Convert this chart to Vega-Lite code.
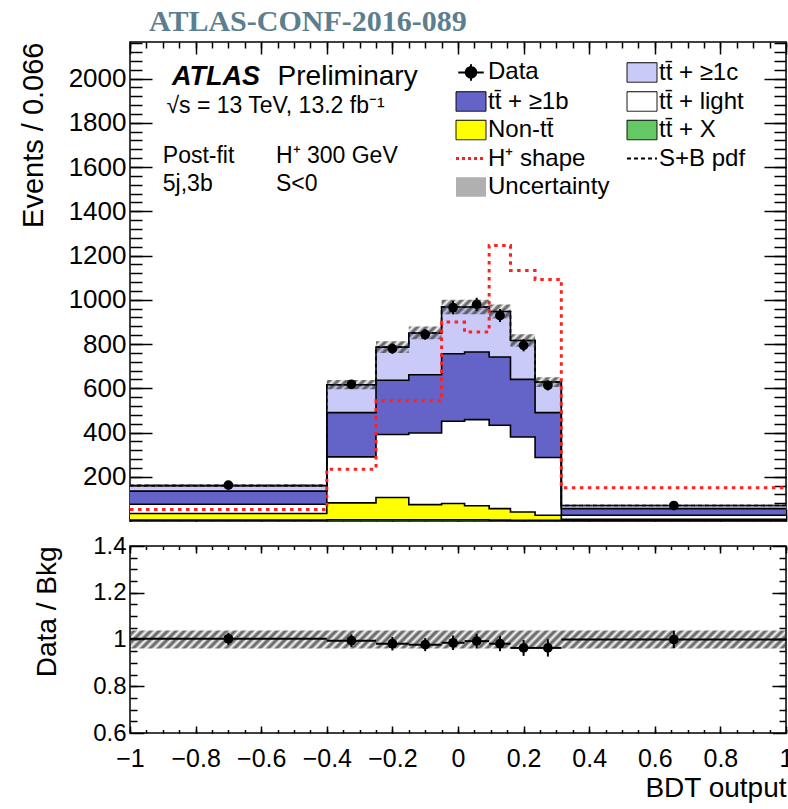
{
  "$schema": "https://vega.github.io/schema/vega-lite/v6.json",
  "background": "white",
  "padding": {"left": 18, "top": 6, "right": 0, "bottom": 0},
  "title": {"text": "ATLAS-CONF-2016-089", "font": "Liberation Serif", "fontSize": 30, "fontWeight": "bold", "color": "#5b7f8e", "anchor": "start", "frame": "group", "dx": 19, "offset": 4},
  "config": {
    "view": {"stroke": "black", "strokeWidth": 1.5},
    "axis": {"domain": false, "grid": false, "tickColor": "black", "tickWidth": 1.5, "labelFont": "Liberation Sans", "labelFontSize": 25, "labelColor": "black", "labelFlush": false, "titleFont": "Liberation Sans", "titleFontWeight": "normal", "titleColor": "black"}
  },
  "datasets": {
    "bins": [
      {"lo": -1, "hi": -0.4, "xc": -0.7, "data": 162, "derr": 4.2, "tt\u0304 + X": 4, "Non-tt\u0304": 30, "tt\u0304 + light": 42, "tt\u0304 + \u22651b": 59, "tt\u0304 + \u22651c": 25, "hp": 52, "sb": 160, "bandLo": 154, "bandHi": 166, "ratio": 1.003, "rerr": 0.026, "rLo": 0.962, "rHi": 1.038},
      {"lo": -0.4, "hi": -0.25, "xc": -0.325, "data": 618, "derr": 16.5, "tt\u0304 + X": 5, "Non-tt\u0304": 77, "tt\u0304 + light": 208, "tt\u0304 + \u22651b": 200, "tt\u0304 + \u22651c": 126, "hp": 234, "sb": 616, "bandLo": 595, "bandHi": 637, "ratio": 0.995, "rerr": 0.027, "rLo": 0.962, "rHi": 1.038},
      {"lo": -0.25, "hi": -0.15, "xc": -0.2, "data": 779, "derr": 22.7, "tt\u0304 + X": 5, "Non-tt\u0304": 101, "tt\u0304 + light": 285, "tt\u0304 + \u22651b": 245, "tt\u0304 + \u22651c": 150, "hp": 543, "sb": 786, "bandLo": 759, "bandHi": 813, "ratio": 0.982, "rerr": 0.029, "rLo": 0.962, "rHi": 1.038},
      {"lo": -0.15, "hi": -0.05, "xc": -0.1, "data": 843, "derr": 23.6, "tt\u0304 + X": 5, "Non-tt\u0304": 69, "tt\u0304 + light": 324, "tt\u0304 + \u22651b": 263, "tt\u0304 + \u22651c": 189, "hp": 543, "sb": 850, "bandLo": 821, "bandHi": 879, "ratio": 0.978, "rerr": 0.028, "rLo": 0.962, "rHi": 1.038},
      {"lo": -0.05, "hi": 0.02, "xc": -0.015, "data": 964, "derr": 30, "tt\u0304 + X": 5, "Non-tt\u0304": 74, "tt\u0304 + light": 372, "tt\u0304 + \u22651b": 305, "tt\u0304 + \u22651c": 211, "hp": 899, "sb": 967, "bandLo": 934, "bandHi": 1000, "ratio": 0.986, "rerr": 0.031, "rLo": 0.962, "rHi": 1.038},
      {"lo": 0.02, "hi": 0.095, "xc": 0.057, "data": 979, "derr": 30, "tt\u0304 + X": 5, "Non-tt\u0304": 64, "tt\u0304 + light": 389, "tt\u0304 + \u22651b": 306, "tt\u0304 + \u22651c": 203, "hp": 854, "sb": 967, "bandLo": 934, "bandHi": 1000, "ratio": 0.993, "rerr": 0.031, "rLo": 0.962, "rHi": 1.038},
      {"lo": 0.095, "hi": 0.16, "xc": 0.128, "data": 929, "derr": 29.6, "tt\u0304 + X": 4, "Non-tt\u0304": 52, "tt\u0304 + light": 377, "tt\u0304 + \u22651b": 308, "tt\u0304 + \u22651c": 206, "hp": 1245, "sb": 947, "bandLo": 915, "bandHi": 979, "ratio": 0.982, "rerr": 0.032, "rLo": 0.962, "rHi": 1.038},
      {"lo": 0.16, "hi": 0.235, "xc": 0.2, "data": 794, "derr": 27.4, "tt\u0304 + X": 3, "Non-tt\u0304": 38, "tt\u0304 + light": 339, "tt\u0304 + \u22651b": 260, "tt\u0304 + \u22651c": 176, "hp": 1132, "sb": 816, "bandLo": 788, "bandHi": 844, "ratio": 0.964, "rerr": 0.034, "rLo": 0.962, "rHi": 1.038},
      {"lo": 0.235, "hi": 0.315, "xc": 0.274, "data": 613, "derr": 22.5, "tt\u0304 + X": 3, "Non-tt\u0304": 23, "tt\u0304 + light": 261, "tt\u0304 + \u22651b": 203, "tt\u0304 + \u22651c": 138, "hp": 1092, "sb": 628, "bandLo": 606, "bandHi": 650, "ratio": 0.964, "rerr": 0.037, "rLo": 0.962, "rHi": 1.038},
      {"lo": 0.315, "hi": 1, "xc": 0.658, "data": 70, "derr": 2.6, "tt\u0304 + X": 2, "Non-tt\u0304": 6, "tt\u0304 + light": 18, "tt\u0304 + \u22651b": 30, "tt\u0304 + \u22651c": 14, "hp": 150, "sb": 70, "bandLo": 67, "bandHi": 73, "ratio": 1.0, "rerr": 0.037, "rLo": 0.962, "rHi": 1.038}
    ]
  },
  "spacing": 8,
  "vconcat": [
    {
      "width": 656,
      "height": 479,
      "resolve": {"axis": {"x": "independent", "y": "independent"}},
      "layer": [
        {
          "data": {"name": "bins"},
          "transform": [
            {"fold": ["tt\u0304 + X", "Non-tt\u0304", "tt\u0304 + light", "tt\u0304 + \u22651b", "tt\u0304 + \u22651c"], "as": ["comp", "v"]},
            {"stack": "v", "groupby": ["lo"], "as": ["y0", "y1"]},
            {"fold": ["lo", "hi"], "as": ["side", "edge"]}
          ],
          "mark": {"type": "area", "opacity": 1},
          "encoding": {
            "x": {"field": "edge", "type": "quantitative", "scale": {"domain": [-1, 1], "nice": false, "zero": false},
                  "axis": {"orient": "bottom", "values": [-1, -0.8, -0.6, -0.4, -0.2, 0, 0.2, 0.4, 0.6, 0.8, 1], "labels": false, "tickSize": -12, "title": null}},
            "y": {"field": "y1", "type": "quantitative", "scale": {"domain": [0, 2165], "nice": false},
                  "axis": {"orient": "left", "values": [200, 400, 600, 800, 1000, 1200, 1400, 1600, 1800, 2000], "format": "d", "tickSize": -22, "labelPadding": 26, "labelFontSize": 26, "title": "Events / 0.066", "titleFontSize": 29, "titleAnchor": "end", "titlePadding": 20}},
            "y2": {"field": "y0"},
            "color": {
              "field": "comp", "type": "nominal",
              "scale": {
                "domain": ["Data", "tt\u0304 + \u22651b", "Non-tt\u0304", "H\u207a shape", "Uncertainty", "tt\u0304 + \u22651c", "tt\u0304 + light", "tt\u0304 + X", "S+B pdf"],
                "range": ["black", "#6464c8", "#ffff00", "#ff2020", "#b0b0b0", "#cacaf8", "white", "#64c864", "black"]
              },
              "legend": {
                "orient": "none", "legendX": 329, "legendY": 18, "columns": 2, "columnPadding": 13, "rowPadding": 4.5,
                "symbolSize": 900, "labelFont": "Liberation Sans", "labelFontSize": 24, "labelColor": "black", "labelOffset": 5, "title": null, "labelLimit": 300,
                "encoding": {
                  "symbols": {
                    "shape": {"value": {"expr": "datum.value === 'Data' ? 'M-0.35,0A0.35,0.35,0,1,1,0.35,0A0.35,0.35,0,1,1,-0.35,0ZM-0.85,0L0.85,0M0,-0.55L0,0.55' : (datum.value === 'H\u207a shape' || datum.value === 'S+B pdf') ? 'stroke' : 'M-1,-0.65H1V0.65H-1Z'"}},
                    "stroke": {"value": {"expr": "datum.value === 'H\u207a shape' ? '#ff2020' : datum.value === 'Uncertainty' ? 'transparent' : 'black'"}},
                    "strokeWidth": {"value": {"expr": "datum.value === 'H\u207a shape' ? 3 : (datum.value === 'Data' || datum.value === 'S+B pdf') ? 2 : 1"}},
                    "strokeDash": {"value": {"expr": "datum.value === 'H\u207a shape' ? [3, 3] : datum.value === 'S+B pdf' ? [4, 3] : [1, 0]"}},
                    "fill": {"value": {"expr": "datum.value === 'Uncertainty' ? {gradient: 'linear', x1: 0, y1: 0, x2: 1.16, y2: 0.754, stops: [{offset: 0, color: '#fff'}, {offset: 0.0833, color: '#fff'}, {offset: 0.125, color: '#333'}, {offset: 0.1667, color: '#fff'}, {offset: 0.25, color: '#fff'}, {offset: 0.2917, color: '#333'}, {offset: 0.3333, color: '#fff'}, {offset: 0.4167, color: '#fff'}, {offset: 0.4583, color: '#333'}, {offset: 0.5, color: '#fff'}, {offset: 0.5833, color: '#fff'}, {offset: 0.625, color: '#333'}, {offset: 0.6667, color: '#fff'}, {offset: 0.75, color: '#fff'}, {offset: 0.7917, color: '#333'}, {offset: 0.8333, color: '#fff'}, {offset: 0.9167, color: '#fff'}, {offset: 0.9583, color: '#333'}, {offset: 1, color: '#fff'}]} : scale('color', datum.value)"}},
                    "opacity": {"value": 1}
                  }
                }
              }
            }
          }
        },
        {
          "data": {"name": "bins"},
          "transform": [
            {"fold": ["tt\u0304 + X", "Non-tt\u0304", "tt\u0304 + light", "tt\u0304 + \u22651b", "tt\u0304 + \u22651c"], "as": ["comp", "v"]},
            {"stack": "v", "groupby": ["lo"], "as": ["y0", "y1"]},
            {"fold": ["lo", "hi"], "as": ["side", "edge"]}
          ],
          "mark": {"type": "line", "color": "black", "strokeWidth": 1.6},
          "encoding": {
            "x": {"field": "edge", "type": "quantitative", "scale": {"domain": [-1, 1], "nice": false, "zero": false},
                  "axis": {"orient": "top", "values": [-1, -0.8, -0.6, -0.4, -0.2, 0, 0.2, 0.4, 0.6, 0.8, 1], "labels": false, "tickSize": -12, "title": null}},
            "y": {"field": "y1", "type": "quantitative", "scale": {"domain": [0, 2165], "nice": false},
                  "axis": {"orient": "right", "values": [200, 400, 600, 800, 1000, 1200, 1400, 1600, 1800, 2000], "labels": false, "tickSize": -22, "title": null}},
            "detail": {"field": "comp", "type": "nominal"},
            "order": [{"field": "edge", "type": "quantitative"}, {"field": "side", "type": "ordinal"}]
          }
        },
        {
          "data": {"name": "bins"},
          "transform": [{"fold": ["lo", "hi"], "as": ["side", "edge"]}],
          "mark": {"type": "area", "opacity": 1, "fill": {"gradient": "linear", "x1": 0, "y1": 0, "x2": 1.196, "y2": 0.3763, "stops": [
            {"offset": 0, "color": "#0000"}, {"offset": 0.005, "color": "#444d"}, {"offset": 0.01, "color": "#0000"}, {"offset": 0.015, "color": "#444d"}, {"offset": 0.02, "color": "#0000"}, {"offset": 0.025, "color": "#444d"}, {"offset": 0.03, "color": "#0000"}, {"offset": 0.035, "color": "#444d"}, {"offset": 0.04, "color": "#0000"}, {"offset": 0.045, "color": "#444d"},
            {"offset": 0.05, "color": "#0000"}, {"offset": 0.055, "color": "#444d"}, {"offset": 0.06, "color": "#0000"}, {"offset": 0.065, "color": "#444d"}, {"offset": 0.07, "color": "#0000"}, {"offset": 0.075, "color": "#444d"}, {"offset": 0.08, "color": "#0000"}, {"offset": 0.085, "color": "#444d"}, {"offset": 0.09, "color": "#0000"}, {"offset": 0.095, "color": "#444d"},
            {"offset": 0.1, "color": "#0000"}, {"offset": 0.105, "color": "#444d"}, {"offset": 0.11, "color": "#0000"}, {"offset": 0.115, "color": "#444d"}, {"offset": 0.12, "color": "#0000"}, {"offset": 0.125, "color": "#444d"}, {"offset": 0.13, "color": "#0000"}, {"offset": 0.135, "color": "#444d"}, {"offset": 0.14, "color": "#0000"}, {"offset": 0.145, "color": "#444d"},
            {"offset": 0.15, "color": "#0000"}, {"offset": 0.155, "color": "#444d"}, {"offset": 0.16, "color": "#0000"}, {"offset": 0.165, "color": "#444d"}, {"offset": 0.17, "color": "#0000"}, {"offset": 0.175, "color": "#444d"}, {"offset": 0.18, "color": "#0000"}, {"offset": 0.185, "color": "#444d"}, {"offset": 0.19, "color": "#0000"}, {"offset": 0.195, "color": "#444d"},
            {"offset": 0.2, "color": "#0000"}, {"offset": 0.205, "color": "#444d"}, {"offset": 0.21, "color": "#0000"}, {"offset": 0.215, "color": "#444d"}, {"offset": 0.22, "color": "#0000"}, {"offset": 0.225, "color": "#444d"}, {"offset": 0.23, "color": "#0000"}, {"offset": 0.235, "color": "#444d"}, {"offset": 0.24, "color": "#0000"}, {"offset": 0.245, "color": "#444d"},
            {"offset": 0.25, "color": "#0000"}, {"offset": 0.255, "color": "#444d"}, {"offset": 0.26, "color": "#0000"}, {"offset": 0.265, "color": "#444d"}, {"offset": 0.27, "color": "#0000"}, {"offset": 0.275, "color": "#444d"}, {"offset": 0.28, "color": "#0000"}, {"offset": 0.285, "color": "#444d"}, {"offset": 0.29, "color": "#0000"}, {"offset": 0.295, "color": "#444d"},
            {"offset": 0.3, "color": "#0000"}, {"offset": 0.305, "color": "#444d"}, {"offset": 0.31, "color": "#0000"}, {"offset": 0.315, "color": "#444d"}, {"offset": 0.32, "color": "#0000"}, {"offset": 0.325, "color": "#444d"}, {"offset": 0.33, "color": "#0000"}, {"offset": 0.335, "color": "#444d"}, {"offset": 0.34, "color": "#0000"}, {"offset": 0.345, "color": "#444d"},
            {"offset": 0.35, "color": "#0000"}, {"offset": 0.355, "color": "#444d"}, {"offset": 0.36, "color": "#0000"}, {"offset": 0.365, "color": "#444d"}, {"offset": 0.37, "color": "#0000"}, {"offset": 0.375, "color": "#444d"}, {"offset": 0.38, "color": "#0000"}, {"offset": 0.385, "color": "#444d"}, {"offset": 0.39, "color": "#0000"}, {"offset": 0.395, "color": "#444d"},
            {"offset": 0.4, "color": "#0000"}, {"offset": 0.405, "color": "#444d"}, {"offset": 0.41, "color": "#0000"}, {"offset": 0.415, "color": "#444d"}, {"offset": 0.42, "color": "#0000"}, {"offset": 0.425, "color": "#444d"}, {"offset": 0.43, "color": "#0000"}, {"offset": 0.435, "color": "#444d"}, {"offset": 0.44, "color": "#0000"}, {"offset": 0.445, "color": "#444d"},
            {"offset": 0.45, "color": "#0000"}, {"offset": 0.455, "color": "#444d"}, {"offset": 0.46, "color": "#0000"}, {"offset": 0.465, "color": "#444d"}, {"offset": 0.47, "color": "#0000"}, {"offset": 0.475, "color": "#444d"}, {"offset": 0.48, "color": "#0000"}, {"offset": 0.485, "color": "#444d"}, {"offset": 0.49, "color": "#0000"}, {"offset": 0.495, "color": "#444d"},
            {"offset": 0.5, "color": "#0000"}, {"offset": 0.505, "color": "#444d"}, {"offset": 0.51, "color": "#0000"}, {"offset": 0.515, "color": "#444d"}, {"offset": 0.52, "color": "#0000"}, {"offset": 0.525, "color": "#444d"}, {"offset": 0.53, "color": "#0000"}, {"offset": 0.535, "color": "#444d"}, {"offset": 0.54, "color": "#0000"}, {"offset": 0.545, "color": "#444d"},
            {"offset": 0.55, "color": "#0000"}, {"offset": 0.555, "color": "#444d"}, {"offset": 0.56, "color": "#0000"}, {"offset": 0.565, "color": "#444d"}, {"offset": 0.57, "color": "#0000"}, {"offset": 0.575, "color": "#444d"}, {"offset": 0.58, "color": "#0000"}, {"offset": 0.585, "color": "#444d"}, {"offset": 0.59, "color": "#0000"}, {"offset": 0.595, "color": "#444d"},
            {"offset": 0.6, "color": "#0000"}, {"offset": 0.605, "color": "#444d"}, {"offset": 0.61, "color": "#0000"}, {"offset": 0.615, "color": "#444d"}, {"offset": 0.62, "color": "#0000"}, {"offset": 0.625, "color": "#444d"}, {"offset": 0.63, "color": "#0000"}, {"offset": 0.635, "color": "#444d"}, {"offset": 0.64, "color": "#0000"}, {"offset": 0.645, "color": "#444d"},
            {"offset": 0.65, "color": "#0000"}, {"offset": 0.655, "color": "#444d"}, {"offset": 0.66, "color": "#0000"}, {"offset": 0.665, "color": "#444d"}, {"offset": 0.67, "color": "#0000"}, {"offset": 0.675, "color": "#444d"}, {"offset": 0.68, "color": "#0000"}, {"offset": 0.685, "color": "#444d"}, {"offset": 0.69, "color": "#0000"}, {"offset": 0.695, "color": "#444d"},
            {"offset": 0.7, "color": "#0000"}, {"offset": 0.705, "color": "#444d"}, {"offset": 0.71, "color": "#0000"}, {"offset": 0.715, "color": "#444d"}, {"offset": 0.72, "color": "#0000"}, {"offset": 0.725, "color": "#444d"}, {"offset": 0.73, "color": "#0000"}, {"offset": 0.735, "color": "#444d"}, {"offset": 0.74, "color": "#0000"}, {"offset": 0.745, "color": "#444d"},
            {"offset": 0.75, "color": "#0000"}, {"offset": 0.755, "color": "#444d"}, {"offset": 0.76, "color": "#0000"}, {"offset": 0.765, "color": "#444d"}, {"offset": 0.77, "color": "#0000"}, {"offset": 0.775, "color": "#444d"}, {"offset": 0.78, "color": "#0000"}, {"offset": 0.785, "color": "#444d"}, {"offset": 0.79, "color": "#0000"}, {"offset": 0.795, "color": "#444d"},
            {"offset": 0.8, "color": "#0000"}, {"offset": 0.805, "color": "#444d"}, {"offset": 0.81, "color": "#0000"}, {"offset": 0.815, "color": "#444d"}, {"offset": 0.82, "color": "#0000"}, {"offset": 0.825, "color": "#444d"}, {"offset": 0.83, "color": "#0000"}, {"offset": 0.835, "color": "#444d"}, {"offset": 0.84, "color": "#0000"}, {"offset": 0.845, "color": "#444d"},
            {"offset": 0.85, "color": "#0000"}, {"offset": 0.855, "color": "#444d"}, {"offset": 0.86, "color": "#0000"}, {"offset": 0.865, "color": "#444d"}, {"offset": 0.87, "color": "#0000"}, {"offset": 0.875, "color": "#444d"}, {"offset": 0.88, "color": "#0000"}, {"offset": 0.885, "color": "#444d"}, {"offset": 0.89, "color": "#0000"}, {"offset": 0.895, "color": "#444d"},
            {"offset": 0.9, "color": "#0000"}, {"offset": 0.905, "color": "#444d"}, {"offset": 0.91, "color": "#0000"}, {"offset": 0.915, "color": "#444d"}, {"offset": 0.92, "color": "#0000"}, {"offset": 0.925, "color": "#444d"}, {"offset": 0.93, "color": "#0000"}, {"offset": 0.935, "color": "#444d"}, {"offset": 0.94, "color": "#0000"}, {"offset": 0.945, "color": "#444d"},
            {"offset": 0.95, "color": "#0000"}, {"offset": 0.955, "color": "#444d"}, {"offset": 0.96, "color": "#0000"}, {"offset": 0.965, "color": "#444d"}, {"offset": 0.97, "color": "#0000"}, {"offset": 0.975, "color": "#444d"}, {"offset": 0.98, "color": "#0000"}, {"offset": 0.985, "color": "#444d"}, {"offset": 0.99, "color": "#0000"}, {"offset": 0.995, "color": "#444d"},
            {"offset": 1, "color": "#0000"}
          ]}},
          "encoding": {
            "x": {"field": "edge", "type": "quantitative", "scale": {"domain": [-1, 1], "nice": false, "zero": false},
                  "axis": {"orient": "bottom", "values": [-1, -0.95, -0.9, -0.85, -0.8, -0.75, -0.7, -0.65, -0.6, -0.55, -0.5, -0.45, -0.4, -0.35, -0.3, -0.25, -0.2, -0.15, -0.1, -0.05, 0, 0.05, 0.1, 0.15, 0.2, 0.25, 0.3, 0.35, 0.4, 0.45, 0.5, 0.55, 0.6, 0.65, 0.7, 0.75, 0.8, 0.85, 0.9, 0.95, 1], "labels": false, "tickSize": -6, "title": null}},
            "y": {"field": "bandLo", "type": "quantitative", "scale": {"domain": [0, 2165], "nice": false},
                  "axis": {"orient": "left", "values": [40, 80, 120, 160, 200, 240, 280, 320, 360, 400, 440, 480, 520, 560, 600, 640, 680, 720, 760, 800, 840, 880, 920, 960, 1000, 1040, 1080, 1120, 1160, 1200, 1240, 1280, 1320, 1360, 1400, 1440, 1480, 1520, 1560, 1600, 1640, 1680, 1720, 1760, 1800, 1840, 1880, 1920, 1960, 2000, 2040, 2080, 2120, 2160], "labels": false, "tickSize": -12, "title": null}},
            "y2": {"field": "bandHi"}
          }
        },
        {
          "data": {"name": "bins"},
          "transform": [{"fold": ["lo", "hi"], "as": ["side", "edge"]}],
          "mark": {"type": "line", "color": "black", "strokeWidth": 1.6, "strokeDash": [4, 3]},
          "encoding": {
            "x": {"field": "edge", "type": "quantitative", "scale": {"domain": [-1, 1], "nice": false, "zero": false},
                  "axis": {"orient": "top", "values": [-1, -0.95, -0.9, -0.85, -0.8, -0.75, -0.7, -0.65, -0.6, -0.55, -0.5, -0.45, -0.4, -0.35, -0.3, -0.25, -0.2, -0.15, -0.1, -0.05, 0, 0.05, 0.1, 0.15, 0.2, 0.25, 0.3, 0.35, 0.4, 0.45, 0.5, 0.55, 0.6, 0.65, 0.7, 0.75, 0.8, 0.85, 0.9, 0.95, 1], "labels": false, "tickSize": -6, "title": null}},
            "y": {"field": "sb", "type": "quantitative", "scale": {"domain": [0, 2165], "nice": false},
                  "axis": {"orient": "right", "values": [40, 80, 120, 160, 200, 240, 280, 320, 360, 400, 440, 480, 520, 560, 600, 640, 680, 720, 760, 800, 840, 880, 920, 960, 1000, 1040, 1080, 1120, 1160, 1200, 1240, 1280, 1320, 1360, 1400, 1440, 1480, 1520, 1560, 1600, 1640, 1680, 1720, 1760, 1800, 1840, 1880, 1920, 1960, 2000, 2040, 2080, 2120, 2160], "labels": false, "tickSize": -12, "title": null}},
            "order": [{"field": "edge", "type": "quantitative"}, {"field": "side", "type": "ordinal"}]
          }
        },
        {
          "data": {"name": "bins"},
          "transform": [{"fold": ["lo", "hi"], "as": ["side", "edge"]}],
          "mark": {"type": "line", "color": "#ff2020", "strokeWidth": 3, "strokeDash": [3.5, 4.5]},
          "encoding": {
            "x": {"field": "edge", "type": "quantitative", "scale": {"domain": [-1, 1], "nice": false, "zero": false}, "axis": null},
            "y": {"field": "hp", "type": "quantitative", "scale": {"domain": [0, 2165], "nice": false}, "axis": null},
            "order": [{"field": "edge", "type": "quantitative"}, {"field": "side", "type": "ordinal"}]
          }
        },
        {
          "data": {"name": "bins"},
          "mark": {"type": "errorbar", "ticks": false, "color": "black", "thickness": 2},
          "encoding": {
            "x": {"field": "xc", "type": "quantitative", "scale": {"domain": [-1, 1], "nice": false, "zero": false}, "axis": null},
            "y": {"field": "data", "type": "quantitative", "scale": {"domain": [0, 2165], "nice": false}, "axis": null},
            "yError": {"field": "derr"}
          }
        },
        {
          "data": {"name": "bins"},
          "mark": {"type": "point", "shape": "circle", "filled": true, "color": "black", "opacity": 1, "size": 95},
          "encoding": {
            "x": {"field": "xc", "type": "quantitative", "scale": {"domain": [-1, 1], "nice": false, "zero": false}, "axis": null},
            "y": {"field": "data", "type": "quantitative", "scale": {"domain": [0, 2165], "nice": false}, "axis": null}
          }
        },
        {
          "data": {"values": [{}]},
          "mark": {"type": "text", "font": "Liberation Sans", "fontSize": 27, "fontWeight": "bold", "fontStyle": "italic", "align": "left", "baseline": "alphabetic", "color": "black"},
          "encoding": {
            "x": {"datum": -0.872, "type": "quantitative", "scale": {"domain": [-1, 1], "nice": false, "zero": false}, "axis": null},
            "y": {"datum": 1970, "type": "quantitative", "scale": {"domain": [0, 2165], "nice": false}, "axis": null},
            "text": {"value": "ATLAS"}
          }
        },
        {
          "data": {"values": [{}]},
          "mark": {"type": "text", "font": "Liberation Sans", "fontSize": 28, "align": "left", "baseline": "alphabetic", "color": "black"},
          "encoding": {
            "x": {"datum": -0.55, "type": "quantitative", "scale": {"domain": [-1, 1], "nice": false, "zero": false}, "axis": null},
            "y": {"datum": 1970, "type": "quantitative", "scale": {"domain": [0, 2165], "nice": false}, "axis": null},
            "text": {"value": "Preliminary"}
          }
        },
        {
          "data": {"values": [{}]},
          "mark": {"type": "text", "font": "Liberation Sans", "fontSize": 23, "align": "left", "baseline": "alphabetic", "color": "black"},
          "encoding": {
            "x": {"datum": -0.889, "type": "quantitative", "scale": {"domain": [-1, 1], "nice": false, "zero": false}, "axis": null},
            "y": {"datum": 1843, "type": "quantitative", "scale": {"domain": [0, 2165], "nice": false}, "axis": null},
            "text": {"value": "\u221as = 13 TeV, 13.2 fb\u207b\u00b9"}
          }
        },
        {
          "data": {"values": [{}]},
          "mark": {"type": "text", "font": "Liberation Sans", "fontSize": 23, "align": "left", "baseline": "alphabetic", "color": "black"},
          "encoding": {
            "x": {"datum": -0.9, "type": "quantitative", "scale": {"domain": [-1, 1], "nice": false, "zero": false}, "axis": null},
            "y": {"datum": 1619, "type": "quantitative", "scale": {"domain": [0, 2165], "nice": false}, "axis": null},
            "text": {"value": "Post-fit"}
          }
        },
        {
          "data": {"values": [{}]},
          "mark": {"type": "text", "font": "Liberation Sans", "fontSize": 23, "align": "left", "baseline": "alphabetic", "color": "black"},
          "encoding": {
            "x": {"datum": -0.555, "type": "quantitative", "scale": {"domain": [-1, 1], "nice": false, "zero": false}, "axis": null},
            "y": {"datum": 1619, "type": "quantitative", "scale": {"domain": [0, 2165], "nice": false}, "axis": null},
            "text": {"value": "H\u207a 300 GeV"}
          }
        },
        {
          "data": {"values": [{}]},
          "mark": {"type": "text", "font": "Liberation Sans", "fontSize": 23, "align": "left", "baseline": "alphabetic", "color": "black"},
          "encoding": {
            "x": {"datum": -0.9, "type": "quantitative", "scale": {"domain": [-1, 1], "nice": false, "zero": false}, "axis": null},
            "y": {"datum": 1492, "type": "quantitative", "scale": {"domain": [0, 2165], "nice": false}, "axis": null},
            "text": {"value": "5j,3b"}
          }
        },
        {
          "data": {"values": [{}]},
          "mark": {"type": "text", "font": "Liberation Sans", "fontSize": 23, "align": "left", "baseline": "alphabetic", "color": "black"},
          "encoding": {
            "x": {"datum": -0.555, "type": "quantitative", "scale": {"domain": [-1, 1], "nice": false, "zero": false}, "axis": null},
            "y": {"datum": 1492, "type": "quantitative", "scale": {"domain": [0, 2165], "nice": false}, "axis": null},
            "text": {"value": "S<0"}
          }
        }
      ]
    },
    {
      "width": 656,
      "height": 187,
      "resolve": {"axis": {"x": "independent", "y": "independent"}},
      "layer": [
        {
          "data": {"name": "bins"},
          "transform": [{"fold": ["lo", "hi"], "as": ["side", "edge"]}],
          "mark": {"type": "area", "opacity": 1, "fill": {"gradient": "linear", "x1": 0, "y1": 0, "x2": 1.0263, "y2": 0.0278, "stops": [
            {"offset": 0, "color": "#0000"}, {"offset": 0.00625, "color": "#444d"}, {"offset": 0.0125, "color": "#0000"}, {"offset": 0.01875, "color": "#444d"}, {"offset": 0.025, "color": "#0000"}, {"offset": 0.03125, "color": "#444d"}, {"offset": 0.0375, "color": "#0000"}, {"offset": 0.04375, "color": "#444d"},
            {"offset": 0.05, "color": "#0000"}, {"offset": 0.05625, "color": "#444d"}, {"offset": 0.0625, "color": "#0000"}, {"offset": 0.06875, "color": "#444d"}, {"offset": 0.075, "color": "#0000"}, {"offset": 0.08125, "color": "#444d"}, {"offset": 0.0875, "color": "#0000"}, {"offset": 0.09375, "color": "#444d"},
            {"offset": 0.1, "color": "#0000"}, {"offset": 0.10625, "color": "#444d"}, {"offset": 0.1125, "color": "#0000"}, {"offset": 0.11875, "color": "#444d"}, {"offset": 0.125, "color": "#0000"}, {"offset": 0.13125, "color": "#444d"}, {"offset": 0.1375, "color": "#0000"}, {"offset": 0.14375, "color": "#444d"},
            {"offset": 0.15, "color": "#0000"}, {"offset": 0.15625, "color": "#444d"}, {"offset": 0.1625, "color": "#0000"}, {"offset": 0.16875, "color": "#444d"}, {"offset": 0.175, "color": "#0000"}, {"offset": 0.18125, "color": "#444d"}, {"offset": 0.1875, "color": "#0000"}, {"offset": 0.19375, "color": "#444d"},
            {"offset": 0.2, "color": "#0000"}, {"offset": 0.20625, "color": "#444d"}, {"offset": 0.2125, "color": "#0000"}, {"offset": 0.21875, "color": "#444d"}, {"offset": 0.225, "color": "#0000"}, {"offset": 0.23125, "color": "#444d"}, {"offset": 0.2375, "color": "#0000"}, {"offset": 0.24375, "color": "#444d"},
            {"offset": 0.25, "color": "#0000"}, {"offset": 0.25625, "color": "#444d"}, {"offset": 0.2625, "color": "#0000"}, {"offset": 0.26875, "color": "#444d"}, {"offset": 0.275, "color": "#0000"}, {"offset": 0.28125, "color": "#444d"}, {"offset": 0.2875, "color": "#0000"}, {"offset": 0.29375, "color": "#444d"},
            {"offset": 0.3, "color": "#0000"}, {"offset": 0.30625, "color": "#444d"}, {"offset": 0.3125, "color": "#0000"}, {"offset": 0.31875, "color": "#444d"}, {"offset": 0.325, "color": "#0000"}, {"offset": 0.33125, "color": "#444d"}, {"offset": 0.3375, "color": "#0000"}, {"offset": 0.34375, "color": "#444d"},
            {"offset": 0.35, "color": "#0000"}, {"offset": 0.35625, "color": "#444d"}, {"offset": 0.3625, "color": "#0000"}, {"offset": 0.36875, "color": "#444d"}, {"offset": 0.375, "color": "#0000"}, {"offset": 0.38125, "color": "#444d"}, {"offset": 0.3875, "color": "#0000"}, {"offset": 0.39375, "color": "#444d"},
            {"offset": 0.4, "color": "#0000"}, {"offset": 0.40625, "color": "#444d"}, {"offset": 0.4125, "color": "#0000"}, {"offset": 0.41875, "color": "#444d"}, {"offset": 0.425, "color": "#0000"}, {"offset": 0.43125, "color": "#444d"}, {"offset": 0.4375, "color": "#0000"}, {"offset": 0.44375, "color": "#444d"},
            {"offset": 0.45, "color": "#0000"}, {"offset": 0.45625, "color": "#444d"}, {"offset": 0.4625, "color": "#0000"}, {"offset": 0.46875, "color": "#444d"}, {"offset": 0.475, "color": "#0000"}, {"offset": 0.48125, "color": "#444d"}, {"offset": 0.4875, "color": "#0000"}, {"offset": 0.49375, "color": "#444d"},
            {"offset": 0.5, "color": "#0000"}, {"offset": 0.50625, "color": "#444d"}, {"offset": 0.5125, "color": "#0000"}, {"offset": 0.51875, "color": "#444d"}, {"offset": 0.525, "color": "#0000"}, {"offset": 0.53125, "color": "#444d"}, {"offset": 0.5375, "color": "#0000"}, {"offset": 0.54375, "color": "#444d"},
            {"offset": 0.55, "color": "#0000"}, {"offset": 0.55625, "color": "#444d"}, {"offset": 0.5625, "color": "#0000"}, {"offset": 0.56875, "color": "#444d"}, {"offset": 0.575, "color": "#0000"}, {"offset": 0.58125, "color": "#444d"}, {"offset": 0.5875, "color": "#0000"}, {"offset": 0.59375, "color": "#444d"},
            {"offset": 0.6, "color": "#0000"}, {"offset": 0.60625, "color": "#444d"}, {"offset": 0.6125, "color": "#0000"}, {"offset": 0.61875, "color": "#444d"}, {"offset": 0.625, "color": "#0000"}, {"offset": 0.63125, "color": "#444d"}, {"offset": 0.6375, "color": "#0000"}, {"offset": 0.64375, "color": "#444d"},
            {"offset": 0.65, "color": "#0000"}, {"offset": 0.65625, "color": "#444d"}, {"offset": 0.6625, "color": "#0000"}, {"offset": 0.66875, "color": "#444d"}, {"offset": 0.675, "color": "#0000"}, {"offset": 0.68125, "color": "#444d"}, {"offset": 0.6875, "color": "#0000"}, {"offset": 0.69375, "color": "#444d"},
            {"offset": 0.7, "color": "#0000"}, {"offset": 0.70625, "color": "#444d"}, {"offset": 0.7125, "color": "#0000"}, {"offset": 0.71875, "color": "#444d"}, {"offset": 0.725, "color": "#0000"}, {"offset": 0.73125, "color": "#444d"}, {"offset": 0.7375, "color": "#0000"}, {"offset": 0.74375, "color": "#444d"},
            {"offset": 0.75, "color": "#0000"}, {"offset": 0.75625, "color": "#444d"}, {"offset": 0.7625, "color": "#0000"}, {"offset": 0.76875, "color": "#444d"}, {"offset": 0.775, "color": "#0000"}, {"offset": 0.78125, "color": "#444d"}, {"offset": 0.7875, "color": "#0000"}, {"offset": 0.79375, "color": "#444d"},
            {"offset": 0.8, "color": "#0000"}, {"offset": 0.80625, "color": "#444d"}, {"offset": 0.8125, "color": "#0000"}, {"offset": 0.81875, "color": "#444d"}, {"offset": 0.825, "color": "#0000"}, {"offset": 0.83125, "color": "#444d"}, {"offset": 0.8375, "color": "#0000"}, {"offset": 0.84375, "color": "#444d"},
            {"offset": 0.85, "color": "#0000"}, {"offset": 0.85625, "color": "#444d"}, {"offset": 0.8625, "color": "#0000"}, {"offset": 0.86875, "color": "#444d"}, {"offset": 0.875, "color": "#0000"}, {"offset": 0.88125, "color": "#444d"}, {"offset": 0.8875, "color": "#0000"}, {"offset": 0.89375, "color": "#444d"},
            {"offset": 0.9, "color": "#0000"}, {"offset": 0.90625, "color": "#444d"}, {"offset": 0.9125, "color": "#0000"}, {"offset": 0.91875, "color": "#444d"}, {"offset": 0.925, "color": "#0000"}, {"offset": 0.93125, "color": "#444d"}, {"offset": 0.9375, "color": "#0000"}, {"offset": 0.94375, "color": "#444d"},
            {"offset": 0.95, "color": "#0000"}, {"offset": 0.95625, "color": "#444d"}, {"offset": 0.9625, "color": "#0000"}, {"offset": 0.96875, "color": "#444d"}, {"offset": 0.975, "color": "#0000"}, {"offset": 0.98125, "color": "#444d"}, {"offset": 0.9875, "color": "#0000"}, {"offset": 0.99375, "color": "#444d"},
            {"offset": 1, "color": "#0000"}
          ]}},
          "encoding": {
            "x": {"field": "edge", "type": "quantitative", "scale": {"domain": [-1, 1], "nice": false, "zero": false},
                  "axis": {"orient": "bottom", "values": [-1, -0.8, -0.6, -0.4, -0.2, 0, 0.2, 0.4, 0.6, 0.8, 1], "format": "~g", "tickSize": -7, "labelPadding": 20, "title": "BDT output", "titleFontSize": 28, "titleAnchor": "end", "titlePadding": 3}},
            "y": {"field": "rLo", "type": "quantitative", "scale": {"domain": [0.6, 1.4], "nice": false, "zero": false},
                  "axis": {"orient": "left", "values": [0.6, 0.8, 1, 1.2, 1.4], "format": "~g", "tickSize": -14, "labelPadding": 18, "labelFontSize": 24, "title": "Data / Bkg", "titleFontSize": 28, "titleAnchor": "end", "titlePadding": 31}},
            "y2": {"field": "rHi"}
          }
        },
        {
          "data": {"name": "bins"},
          "mark": {"type": "rule", "color": "black", "strokeWidth": 2},
          "encoding": {
            "x": {"field": "lo", "type": "quantitative", "scale": {"domain": [-1, 1], "nice": false, "zero": false},
                  "axis": {"orient": "top", "values": [-1, -0.8, -0.6, -0.4, -0.2, 0, 0.2, 0.4, 0.6, 0.8, 1], "labels": false, "tickSize": -7, "title": null}},
            "x2": {"field": "hi"},
            "y": {"field": "ratio", "type": "quantitative", "scale": {"domain": [0.6, 1.4], "nice": false, "zero": false},
                  "axis": {"orient": "right", "values": [0.6, 0.8, 1, 1.2, 1.4], "labels": false, "tickSize": -14, "title": null}}
          }
        },
        {
          "data": {"name": "bins"},
          "mark": {"type": "point", "shape": "circle", "filled": true, "color": "black", "opacity": 1, "size": 95},
          "encoding": {
            "x": {"field": "xc", "type": "quantitative", "scale": {"domain": [-1, 1], "nice": false, "zero": false},
                  "axis": {"orient": "bottom", "values": [-1, -0.95, -0.9, -0.85, -0.8, -0.75, -0.7, -0.65, -0.6, -0.55, -0.5, -0.45, -0.4, -0.35, -0.3, -0.25, -0.2, -0.15, -0.1, -0.05, 0, 0.05, 0.1, 0.15, 0.2, 0.25, 0.3, 0.35, 0.4, 0.45, 0.5, 0.55, 0.6, 0.65, 0.7, 0.75, 0.8, 0.85, 0.9, 0.95, 1], "labels": false, "tickSize": -3.5, "title": null}},
            "y": {"field": "ratio", "type": "quantitative", "scale": {"domain": [0.6, 1.4], "nice": false, "zero": false},
                  "axis": {"orient": "left", "values": [0.65, 0.7, 0.75, 0.8, 0.85, 0.9, 0.95, 1, 1.05, 1.1, 1.15, 1.2, 1.25, 1.3, 1.35], "labels": false, "tickSize": -7, "title": null}}
          }
        },
        {
          "data": {"name": "bins"},
          "mark": {"type": "errorbar", "ticks": false, "color": "black", "thickness": 2},
          "encoding": {
            "x": {"field": "xc", "type": "quantitative", "scale": {"domain": [-1, 1], "nice": false, "zero": false},
                  "axis": {"orient": "top", "values": [-1, -0.95, -0.9, -0.85, -0.8, -0.75, -0.7, -0.65, -0.6, -0.55, -0.5, -0.45, -0.4, -0.35, -0.3, -0.25, -0.2, -0.15, -0.1, -0.05, 0, 0.05, 0.1, 0.15, 0.2, 0.25, 0.3, 0.35, 0.4, 0.45, 0.5, 0.55, 0.6, 0.65, 0.7, 0.75, 0.8, 0.85, 0.9, 0.95, 1], "labels": false, "tickSize": -3.5, "title": null}},
            "y": {"field": "ratio", "type": "quantitative", "scale": {"domain": [0.6, 1.4], "nice": false, "zero": false},
                  "axis": {"orient": "right", "values": [0.65, 0.7, 0.75, 0.8, 0.85, 0.9, 0.95, 1, 1.05, 1.1, 1.15, 1.2, 1.25, 1.3, 1.35], "labels": false, "tickSize": -7, "title": null}},
            "yError": {"field": "rerr"}
          }
        }
      ]
    }
  ]
}
